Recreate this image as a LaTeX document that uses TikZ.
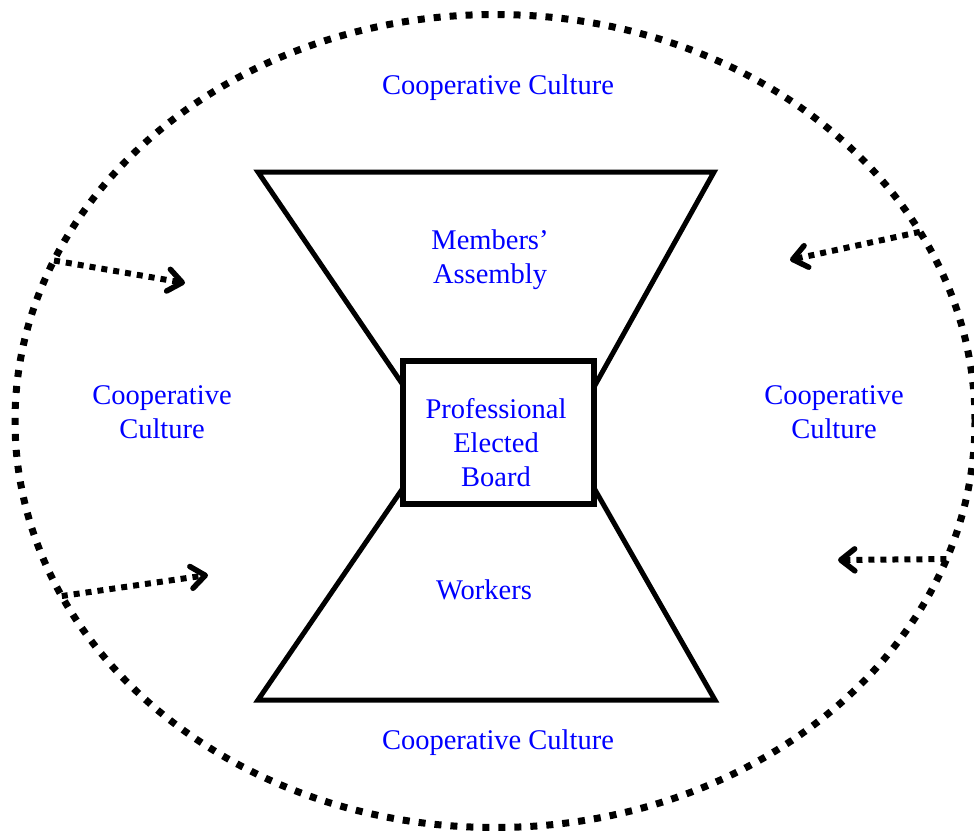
\documentclass[tikz,border=0pt]{standalone}
\usepackage{fontspec}
\setmainfont{Liberation Serif}
\usetikzlibrary{
  arrows.meta,
  positioning,
  shapes.geometric
}

\begin{document}
\begin{tikzpicture}[x=1pt, y=-1pt,
    culture/.style={draw, ellipse, line width=7pt, dash pattern=on 7pt off 9pt,
      minimum width=960pt, minimum height=813pt, inner sep=0pt, outer sep=0pt},
    blue text/.style={text=blue, align=center, font=\fontsize{28.5}{34}\selectfont},
    influence/.style={line width=6pt, dash pattern=on 6pt off 6pt,
      -{Straight Barb[length=14pt, width=22pt, line width=5.5pt, round]}},
    tier/.style={line width=5pt, line join=miter},
    boardbox/.style={draw, line width=5.5pt, minimum width=191pt, minimum height=143pt,
      inner sep=0pt, outer sep=0pt}]
  \useasboundingbox (0,0) rectangle (974,832);

  % surrounding culture
  \node [culture] (culture) at (495,421) {};

  % hourglass: assembly on top, workers below, board in the waist
  \node [boardbox] (board) at (498.5,432.5) {};
  \coordinate (assembly-l) at (258,172);
  \coordinate (assembly-r) at (714,172);
  \coordinate (workers-l) at (258,700);
  \coordinate (workers-r) at (715,700);
  \draw [tier] ([yshift=-24pt]board.north west) -- (assembly-l) -- (assembly-r)
    -- ([yshift=-26pt]board.north east);
  \draw [tier] ([yshift=16pt]board.south west) -- (workers-l) -- (workers-r)
    -- ([yshift=16pt]board.south east);

  \node [blue text] (members) at (490,260) {Members’\\Assembly};
  \node [blue text] (workers) at (484,590) {Workers};
  \node [blue text] (board-text) at (496,443) {Professional\\Elected\\Board};

  \node [blue text] (culture-top) at (498,88) {Cooperative Culture};
  \node [blue text] (culture-bottom) at (498,743) {Cooperative Culture};
  \node [blue text] (culture-left) at (162,412) {Cooperative\\Culture};
  \node [blue text] (culture-right) at (834,412) {Cooperative\\Culture};

  % culture pressing inwards
  \coordinate (in-ul) at (185,283);
  \coordinate (in-ll) at (208,575);
  \coordinate (in-ur) at (790,260);
  \coordinate (in-lr) at (838,560);
  \draw [influence] (culture.160) -- (in-ul);
  \draw [influence] (culture.202) -- (in-ll);
  \draw [influence] (culture.24) -- (in-ur);
  \draw [influence] (culture.-17) -- (in-lr);
\end{tikzpicture}
\end{document}
